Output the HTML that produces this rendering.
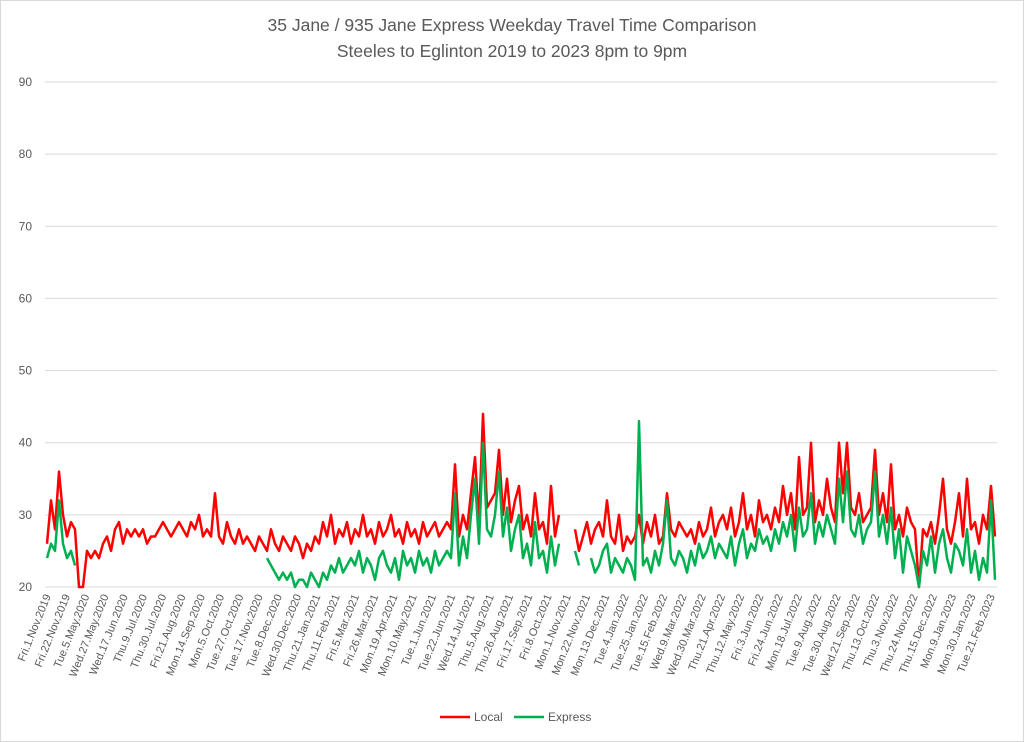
<!DOCTYPE html>
<html><head><meta charset="utf-8"><style>
body{margin:0;background:#fff;}
svg{display:block;font-family:"Liberation Sans",sans-serif;}
</style></head><body>
<svg id="chart" width="1024" height="742">
<rect x="0.5" y="0.5" width="1023" height="741" fill="#fff" stroke="#d9d9d9"/>
<text x="512" y="31" text-anchor="middle" font-size="17.5" fill="#595959">35 Jane / 935 Jane Express Weekday Travel Time Comparison</text>
<text x="512" y="57" text-anchor="middle" font-size="17.5" fill="#595959">Steeles to Eglinton 2019 to 2023 8pm to 9pm</text>
<g id="grid"></g><g id="ylabels"></g><g id="xlabels"></g><g id="series"></g>
<g>
<line x1="440" y1="717" x2="470" y2="717" stroke="#ff0000" stroke-width="2.5"/>
<text x="474" y="721" font-size="12" fill="#595959">Local</text>
<line x1="514" y1="717" x2="544" y2="717" stroke="#00b050" stroke-width="2.5"/>
<text x="548" y="721" font-size="12" fill="#595959">Express</text>
</g>
</svg>
<script>
const yTicks=[20,30,40,50,60,70,80,90];
const xTickLabels=["Fri.1.Nov.2019","Fri.22.Nov.2019","Tue.5.May.2020","Wed.27.May.2020","Wed.17.Jun.2020","Thu.9.Jul.2020","Thu.30.Jul.2020","Fri.21.Aug.2020","Mon.14.Sep.2020","Mon.5.Oct.2020","Tue.27.Oct.2020","Tue.17.Nov.2020","Tue.8.Dec.2020","Wed.30.Dec.2020","Thu.21.Jan.2021","Thu.11.Feb.2021","Fri.5.Mar.2021","Fri.26.Mar.2021","Mon.19.Apr.2021","Mon.10.May.2021","Tue.1.Jun.2021","Tue.22.Jun.2021","Wed.14.Jul.2021","Thu.5.Aug.2021","Thu.26.Aug.2021","Fri.17.Sep.2021","Fri.8.Oct.2021","Mon.1.Nov.2021","Mon.22.Nov.2021","Mon.13.Dec.2021","Tue.4.Jan.2022","Tue.25.Jan.2022","Tue.15.Feb.2022","Wed.9.Mar.2022","Wed.30.Mar.2022","Thu.21.Apr.2022","Thu.12.May.2022","Fri.3.Jun.2022","Fri.24.Jun.2022","Mon.18.Jul.2022","Tue.9.Aug.2022","Tue.30.Aug.2022","Wed.21.Sep.2022","Thu.13.Oct.2022","Thu.3.Nov.2022","Thu.24.Nov.2022","Thu.15.Dec.2022","Mon.9.Jan.2023","Mon.30.Jan.2023","Tue.21.Feb.2023"];
const N=null;
const localValues=[26,32,28,36,30,27,29,28,20,20,
25,24,25,24,26,27,25,28,29,26,
28,27,28,27,28,26,27,27,28,29,
28,27,28,29,28,27,29,28,30,27,
28,27,33,27,26,29,27,26,28,26,
27,26,25,27,26,25,28,26,25,27,
26,25,27,26,24,26,25,27,26,29,
27,30,26,28,27,29,26,28,27,30,
27,28,26,29,27,28,30,27,28,26,
29,27,28,26,29,27,28,29,27,28,
29,28,37,27,30,28,33,38,29,44,
31,32,33,39,30,35,29,32,34,28,
30,27,33,28,29,26,34,27,30,N,
N,N,28,25,27,29,26,28,29,27,
32,27,26,30,25,27,26,27,30,26,
29,27,30,26,27,33,28,27,29,28,
27,28,26,29,27,28,31,27,29,30,
28,31,27,29,33,28,30,27,32,29,
30,28,31,29,34,30,33,28,38,30,
31,40,29,32,30,35,31,29,40,33,
40,31,30,33,29,30,31,39,30,33,
29,37,28,30,27,31,29,28,20,28,
27,29,26,30,35,28,26,29,33,27,
35,28,29,26,30,28,34,27];
const expressValues=[24,26,25,32,26,24,25,23,N,N,
N,N,N,N,N,N,N,N,N,N,
N,N,N,N,N,N,N,N,N,N,
N,N,N,N,N,N,N,N,N,N,
N,N,N,N,N,N,N,N,N,N,
N,N,N,N,N,24,23,22,21,22,
21,22,20,21,21,20,22,21,20,22,
21,23,22,24,22,23,24,23,25,22,
24,23,21,24,25,23,22,24,21,25,
23,24,22,25,23,24,22,25,23,24,
25,24,33,23,27,24,30,35,26,40,
28,27,30,36,27,31,25,28,30,24,
26,23,29,24,25,22,27,23,26,N,
N,N,25,23,N,N,24,22,23,25,
26,22,24,23,22,24,23,21,43,23,
24,22,25,23,26,32,24,23,25,24,
22,25,23,26,24,25,27,24,26,25,
24,27,23,26,28,24,26,25,28,26,
27,25,28,26,29,27,30,25,31,27,
28,33,26,29,27,30,28,26,35,29,
36,28,27,30,26,28,29,36,27,30,
26,31,24,28,22,27,25,23,20,25,
23,27,22,26,28,24,22,26,25,23,
28,22,25,21,24,22,32,21];

const ns="http://www.w3.org/2000/svg";
const X0=45,X1=997,Y0=587,Y1=82,YMIN=20,YMAX=90;
function yScale(v){return Y0-(v-YMIN)/(YMAX-YMIN)*(Y0-Y1);}
const nPts=localValues.length;
function xScale(i){return X0+(i+0.5)*(X1-X0)/nPts;}
function xLabelPos(k){return X0+2+(k)*(X1-X0-8)/(xTickLabels.length-1);}
function mk(tag,attrs){const e=document.createElementNS(ns,tag);for(const k in attrs)e.setAttribute(k,attrs[k]);return e;}
const grid=document.getElementById('grid'),yl=document.getElementById('ylabels'),xl=document.getElementById('xlabels'),ser=document.getElementById('series');
yTicks.forEach(t=>{
  const g=mk('line',{x1:X0,x2:X1,y1:yScale(t),y2:yScale(t),stroke:'#d9d9d9','stroke-width':1});
  
  
  grid.appendChild(g);
  const tx=mk('text',{x:32,y:yScale(t)+4,'text-anchor':'end','font-size':12,fill:'#595959'});
  tx.textContent=t;
  
  
  yl.appendChild(tx);
});
xTickLabels.forEach((lab,k)=>{
  const x=xLabelPos(k);
  const tx=mk('text',{x:x+4,y:596,'text-anchor':'end','font-size':11,fill:'#595959',transform:'rotate(-68 '+(x+4)+' 596)'});
  tx.textContent=lab;
  
  
  xl.appendChild(tx);
});
function drawSeries(vals,color,name){
  let d='',pen=false;
  vals.forEach((v,i)=>{
    if(v===null){pen=false;return;}
    d+=(pen?'L':'M')+xScale(i).toFixed(1)+' '+yScale(v).toFixed(1)+' ';pen=true;
  });
  const p=mk('path',{d:d,fill:'none',stroke:color,'stroke-width':2.5,'stroke-linejoin':'round'});
  
  
  ser.appendChild(p);
}
drawSeries(localValues,'#ff0000','local-series-line');
drawSeries(expressValues,'#00b050','express-series-line');
</script>
</body></html>
